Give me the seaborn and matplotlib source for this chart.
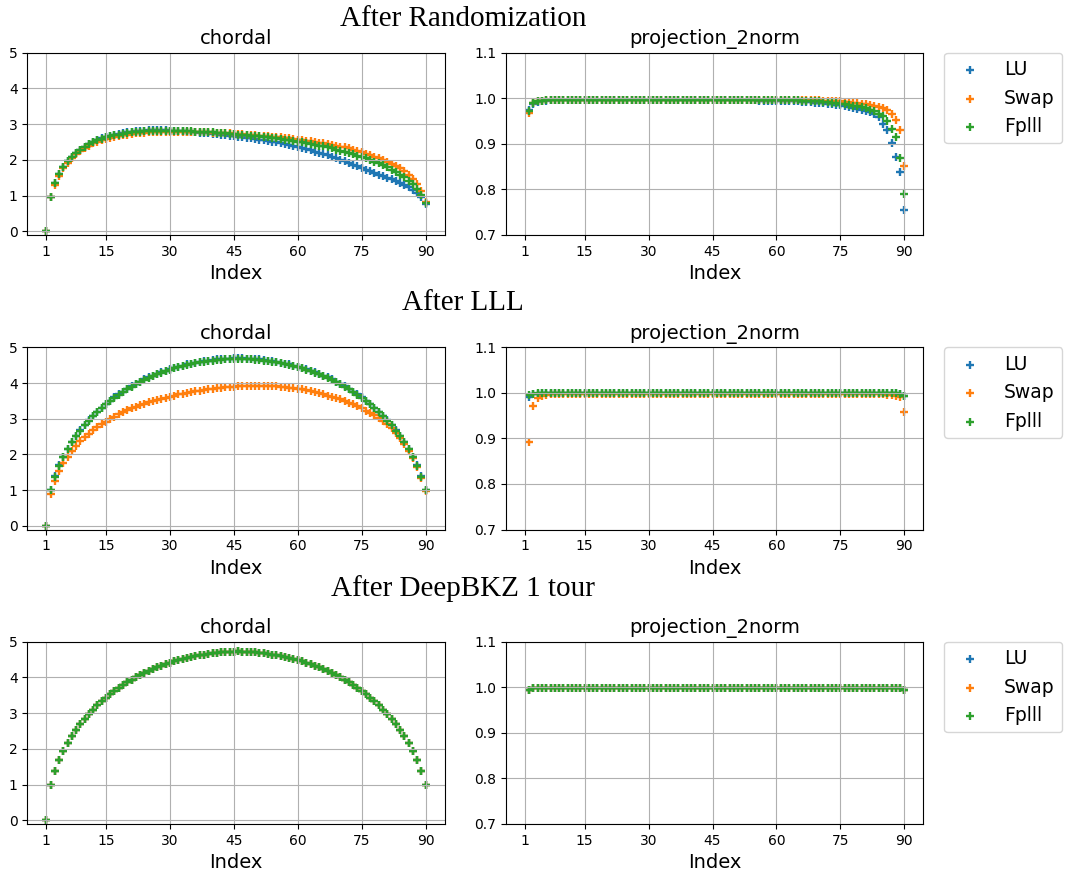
import matplotlib
matplotlib.use("Agg")
import matplotlib.pyplot as plt
import seaborn as sns

# ---------------------------------------------------------------------------
# Data
# ---------------------------------------------------------------------------
methods = ["LU", "Swap", "Fplll"]
colors = ["#1f77b4", "#ff7f0e", "#2ca02c"]
stage_titles = ["After Randomization", "After LLL", "After DeepBKZ 1 tour"]
index_chordal = list(range(1, 91))
index_proj = list(range(2, 91))
xtick_values = [1, 15, 30, 45, 60, 75, 90]
chordal_yticks = [0, 1, 2, 3, 4, 5]
proj_yticks = [0.7, 0.8, 0.9, 1.0, 1.1]

# chordal -- after randomization
chordal_rand_lu = [
    0.00, 0.97, 1.34, 1.60, 1.80, 1.96, 2.09, 2.20, 2.29, 2.37,
    2.44, 2.50, 2.55, 2.60, 2.64, 2.67, 2.70, 2.73, 2.75, 2.77,
    2.79, 2.80, 2.81, 2.82, 2.83, 2.83, 2.83, 2.83, 2.83, 2.82,
    2.82, 2.81, 2.80, 2.79, 2.78, 2.77, 2.76, 2.75, 2.74, 2.73,
    2.72, 2.71, 2.70, 2.68, 2.67, 2.65, 2.64, 2.62, 2.60, 2.59,
    2.57, 2.55, 2.53, 2.51, 2.49, 2.47, 2.44, 2.42, 2.39, 2.36,
    2.33, 2.30, 2.27, 2.23, 2.20, 2.16, 2.13, 2.09, 2.05, 2.01,
    1.97, 1.92, 1.87, 1.82, 1.77, 1.72, 1.68, 1.64, 1.59, 1.55,
    1.50, 1.46, 1.41, 1.36, 1.31, 1.24, 1.16, 1.07, 0.95, 0.77,
]
chordal_rand_swap = [
    0.00, 0.95, 1.30, 1.56, 1.76, 1.92, 2.05, 2.16, 2.25, 2.33,
    2.40, 2.46, 2.51, 2.55, 2.59, 2.62, 2.65, 2.67, 2.69, 2.71,
    2.73, 2.74, 2.75, 2.76, 2.77, 2.78, 2.78, 2.79, 2.79, 2.79,
    2.79, 2.79, 2.79, 2.79, 2.78, 2.78, 2.78, 2.77, 2.77, 2.76,
    2.76, 2.75, 2.75, 2.74, 2.73, 2.73, 2.72, 2.71, 2.70, 2.69,
    2.68, 2.67, 2.66, 2.65, 2.64, 2.63, 2.61, 2.60, 2.58, 2.57,
    2.55, 2.54, 2.52, 2.50, 2.48, 2.46, 2.44, 2.42, 2.40, 2.37,
    2.35, 2.32, 2.29, 2.25, 2.21, 2.17, 2.13, 2.09, 2.04, 1.99,
    1.94, 1.89, 1.83, 1.76, 1.68, 1.58, 1.47, 1.33, 1.12, 0.83,
]
chordal_rand_fplll = [
    0.00, 0.97, 1.34, 1.60, 1.80, 1.96, 2.09, 2.20, 2.29, 2.37,
    2.44, 2.50, 2.55, 2.59, 2.63, 2.66, 2.69, 2.71, 2.73, 2.75,
    2.77, 2.78, 2.79, 2.80, 2.81, 2.81, 2.82, 2.82, 2.82, 2.82,
    2.82, 2.81, 2.81, 2.80, 2.80, 2.79, 2.79, 2.78, 2.77, 2.77,
    2.76, 2.75, 2.74, 2.73, 2.72, 2.71, 2.70, 2.69, 2.68, 2.67,
    2.66, 2.64, 2.63, 2.62, 2.60, 2.59, 2.57, 2.55, 2.53, 2.51,
    2.49, 2.47, 2.45, 2.43, 2.40, 2.38, 2.35, 2.32, 2.29, 2.26,
    2.23, 2.19, 2.16, 2.12, 2.08, 2.04, 2.00, 1.95, 1.90, 1.85,
    1.79, 1.73, 1.67, 1.59, 1.51, 1.42, 1.32, 1.19, 1.03, 0.80,
]

# chordal -- after LLL
chordal_lll_lu = [
    0.00, 1.00, 1.39, 1.70, 1.94, 2.15, 2.35, 2.52, 2.68, 2.83,
    2.96, 3.08, 3.20, 3.31, 3.41, 3.51, 3.60, 3.68, 3.76, 3.84,
    3.91, 3.98, 4.04, 4.10, 4.16, 4.21, 4.26, 4.30, 4.35, 4.39,
    4.42, 4.46, 4.49, 4.52, 4.54, 4.57, 4.59, 4.61, 4.63, 4.64,
    4.66, 4.67, 4.68, 4.68, 4.69, 4.69, 4.69, 4.68, 4.68, 4.67,
    4.66, 4.64, 4.63, 4.61, 4.59, 4.57, 4.54, 4.52, 4.49, 4.46,
    4.42, 4.39, 4.35, 4.30, 4.26, 4.21, 4.16, 4.10, 4.04, 3.98,
    3.91, 3.84, 3.76, 3.68, 3.60, 3.51, 3.41, 3.31, 3.20, 3.08,
    2.96, 2.83, 2.68, 2.52, 2.35, 2.15, 1.94, 1.70, 1.39, 1.00,
]
chordal_lll_swap = [
    0.00, 0.90, 1.26, 1.53, 1.75, 1.94, 2.10, 2.24, 2.37, 2.48,
    2.58, 2.68, 2.77, 2.85, 2.92, 2.99, 3.06, 3.12, 3.18, 3.24,
    3.29, 3.34, 3.38, 3.42, 3.46, 3.50, 3.53, 3.56, 3.59, 3.62,
    3.65, 3.68, 3.70, 3.73, 3.75, 3.77, 3.79, 3.81, 3.83, 3.84,
    3.86, 3.87, 3.88, 3.89, 3.90, 3.91, 3.92, 3.92, 3.93, 3.93,
    3.93, 3.93, 3.92, 3.92, 3.91, 3.90, 3.89, 3.87, 3.86, 3.84,
    3.82, 3.80, 3.77, 3.75, 3.72, 3.69, 3.65, 3.62, 3.58, 3.54,
    3.50, 3.45, 3.40, 3.35, 3.29, 3.23, 3.17, 3.10, 3.03, 2.95,
    2.85, 2.74, 2.60, 2.45, 2.29, 2.10, 1.89, 1.64, 1.35, 0.97,
]
chordal_lll_fplll = [
    0.00, 1.00, 1.38, 1.69, 1.93, 2.14, 2.34, 2.51, 2.67, 2.82,
    2.95, 3.07, 3.19, 3.30, 3.40, 3.50, 3.59, 3.67, 3.75, 3.83,
    3.90, 3.97, 4.03, 4.09, 4.14, 4.19, 4.24, 4.29, 4.33, 4.37,
    4.41, 4.44, 4.47, 4.50, 4.53, 4.55, 4.58, 4.60, 4.61, 4.63,
    4.64, 4.65, 4.66, 4.67, 4.67, 4.68, 4.67, 4.67, 4.66, 4.65,
    4.64, 4.63, 4.61, 4.60, 4.58, 4.55, 4.53, 4.50, 4.47, 4.44,
    4.41, 4.37, 4.33, 4.29, 4.24, 4.19, 4.14, 4.09, 4.03, 3.97,
    3.90, 3.83, 3.75, 3.67, 3.59, 3.50, 3.40, 3.30, 3.19, 3.07,
    2.95, 2.82, 2.67, 2.51, 2.34, 2.14, 1.93, 1.69, 1.38, 1.00,
]

# chordal -- after one DeepBKZ tour (the three methods coincide)
chordal_deep_lu = [
    0.00, 1.00, 1.39, 1.70, 1.95, 2.16, 2.36, 2.53, 2.69, 2.84,
    2.98, 3.10, 3.22, 3.33, 3.43, 3.53, 3.62, 3.71, 3.79, 3.86,
    3.93, 4.00, 4.06, 4.12, 4.18, 4.23, 4.28, 4.33, 4.37, 4.41,
    4.45, 4.48, 4.52, 4.55, 4.57, 4.60, 4.62, 4.64, 4.66, 4.68,
    4.69, 4.70, 4.71, 4.72, 4.72, 4.73, 4.72, 4.72, 4.71, 4.70,
    4.69, 4.68, 4.66, 4.64, 4.62, 4.60, 4.57, 4.55, 4.52, 4.48,
    4.45, 4.41, 4.37, 4.33, 4.28, 4.23, 4.18, 4.12, 4.06, 4.00,
    3.93, 3.86, 3.79, 3.71, 3.62, 3.53, 3.43, 3.33, 3.22, 3.10,
    2.98, 2.84, 2.69, 2.53, 2.36, 2.16, 1.95, 1.70, 1.39, 1.00,
]
chordal_deep_swap = chordal_deep_lu
chordal_deep_fplll = chordal_deep_lu

# projection_2norm -- after randomization (indices 2..90)
proj_rand_lu = [
    0.975, 0.988, 0.992, 0.994, 0.995, 0.996, 0.996, 0.996, 0.996, 0.996,
    0.996, 0.996, 0.996, 0.996, 0.996, 0.996, 0.996, 0.996, 0.996, 0.996,
    0.996, 0.996, 0.996, 0.996, 0.996, 0.996, 0.996, 0.996, 0.996, 0.996,
    0.996, 0.996, 0.996, 0.996, 0.996, 0.996, 0.996, 0.996, 0.996, 0.996,
    0.996, 0.996, 0.996, 0.996, 0.996, 0.996, 0.996, 0.996, 0.996, 0.996,
    0.996, 0.996, 0.996, 0.996, 0.995, 0.995, 0.995, 0.995, 0.995, 0.994,
    0.994, 0.994, 0.993, 0.993, 0.992, 0.992, 0.991, 0.990, 0.990, 0.989,
    0.988, 0.987, 0.986, 0.985, 0.983, 0.981, 0.979, 0.977, 0.975, 0.972,
    0.969, 0.965, 0.958, 0.943, 0.931, 0.902, 0.871, 0.838, 0.755,
]
proj_rand_swap = [
    0.967, 0.989, 0.993, 0.995, 0.996, 0.997, 0.997, 0.997, 0.997, 0.997,
    0.997, 0.997, 0.997, 0.997, 0.997, 0.997, 0.997, 0.997, 0.997, 0.997,
    0.997, 0.997, 0.997, 0.997, 0.997, 0.997, 0.997, 0.997, 0.997, 0.997,
    0.997, 0.997, 0.997, 0.997, 0.997, 0.997, 0.997, 0.997, 0.997, 0.997,
    0.997, 0.997, 0.997, 0.997, 0.997, 0.997, 0.997, 0.997, 0.997, 0.997,
    0.997, 0.997, 0.997, 0.997, 0.997, 0.997, 0.997, 0.997, 0.997, 0.997,
    0.997, 0.997, 0.997, 0.997, 0.996, 0.996, 0.996, 0.996, 0.996, 0.995,
    0.995, 0.994, 0.994, 0.993, 0.992, 0.991, 0.990, 0.989, 0.988, 0.987,
    0.985, 0.983, 0.981, 0.978, 0.975, 0.966, 0.953, 0.931, 0.851,
]
proj_rand_fplll = [
    0.973, 0.989, 0.993, 0.995, 0.996, 0.997, 0.997, 0.997, 0.997, 0.997,
    0.997, 0.997, 0.997, 0.997, 0.997, 0.997, 0.997, 0.997, 0.997, 0.997,
    0.997, 0.997, 0.997, 0.997, 0.997, 0.997, 0.997, 0.997, 0.997, 0.997,
    0.997, 0.997, 0.997, 0.997, 0.997, 0.997, 0.997, 0.997, 0.997, 0.997,
    0.997, 0.997, 0.997, 0.997, 0.997, 0.997, 0.997, 0.997, 0.997, 0.997,
    0.997, 0.997, 0.997, 0.997, 0.997, 0.997, 0.997, 0.997, 0.997, 0.996,
    0.996, 0.996, 0.996, 0.996, 0.995, 0.995, 0.994, 0.994, 0.993, 0.992,
    0.991, 0.990, 0.989, 0.988, 0.987, 0.985, 0.984, 0.982, 0.980, 0.978,
    0.975, 0.971, 0.966, 0.960, 0.951, 0.932, 0.915, 0.869, 0.790,
]

# projection_2norm -- after LLL
proj_lll_lu = [
    0.990, 0.997, 0.998, 0.999, 0.999, 0.999, 0.999, 0.999, 0.999, 0.999,
    0.999, 0.999, 0.999, 0.999, 0.999, 0.999, 0.999, 0.999, 0.999, 0.999,
    0.999, 0.999, 0.999, 0.999, 0.999, 0.999, 0.999, 0.999, 0.999, 0.999,
    0.999, 0.999, 0.999, 0.999, 0.999, 0.999, 0.999, 0.999, 0.999, 0.999,
    0.999, 0.999, 0.999, 0.999, 0.999, 0.999, 0.999, 0.999, 0.999, 0.999,
    0.999, 0.999, 0.999, 0.999, 0.999, 0.999, 0.999, 0.999, 0.999, 0.999,
    0.999, 0.999, 0.999, 0.999, 0.999, 0.999, 0.999, 0.999, 0.999, 0.999,
    0.999, 0.999, 0.999, 0.999, 0.999, 0.999, 0.999, 0.999, 0.999, 0.999,
    0.999, 0.999, 0.999, 0.999, 0.999, 0.999, 0.999, 0.998, 0.994,
]
proj_lll_swap = [
    0.893, 0.972, 0.988, 0.993, 0.995, 0.997, 0.997, 0.997, 0.997, 0.997,
    0.997, 0.997, 0.997, 0.997, 0.997, 0.997, 0.997, 0.997, 0.997, 0.997,
    0.997, 0.997, 0.997, 0.997, 0.997, 0.997, 0.997, 0.997, 0.997, 0.997,
    0.997, 0.997, 0.997, 0.997, 0.997, 0.997, 0.997, 0.997, 0.997, 0.997,
    0.997, 0.997, 0.997, 0.997, 0.997, 0.997, 0.997, 0.997, 0.997, 0.997,
    0.997, 0.997, 0.997, 0.997, 0.997, 0.997, 0.997, 0.997, 0.997, 0.997,
    0.997, 0.997, 0.997, 0.997, 0.997, 0.997, 0.997, 0.997, 0.997, 0.997,
    0.997, 0.997, 0.997, 0.997, 0.997, 0.997, 0.997, 0.997, 0.997, 0.997,
    0.997, 0.997, 0.997, 0.997, 0.996, 0.995, 0.993, 0.990, 0.957,
]
proj_lll_fplll = [
    0.995, 0.998, 0.999, 0.999, 0.999, 0.999, 0.999, 0.999, 0.999, 0.999,
    0.999, 0.999, 0.999, 0.999, 0.999, 0.999, 0.999, 0.999, 0.999, 0.999,
    0.999, 0.999, 0.999, 0.999, 0.999, 0.999, 0.999, 0.999, 0.999, 0.999,
    0.999, 0.999, 0.999, 0.999, 0.999, 0.999, 0.999, 0.999, 0.999, 0.999,
    0.999, 0.999, 0.999, 0.999, 0.999, 0.999, 0.999, 0.999, 0.999, 0.999,
    0.999, 0.999, 0.999, 0.999, 0.999, 0.999, 0.999, 0.999, 0.999, 0.999,
    0.999, 0.999, 0.999, 0.999, 0.999, 0.999, 0.999, 0.999, 0.999, 0.999,
    0.999, 0.999, 0.999, 0.999, 0.999, 0.999, 0.999, 0.999, 0.999, 0.999,
    0.999, 0.999, 0.999, 0.999, 0.999, 0.999, 0.999, 0.998, 0.994,
]

# projection_2norm -- after one DeepBKZ tour (the three methods coincide)
proj_deep_lu = [
    0.994, 0.998, 0.999, 0.999, 0.999, 0.999, 0.999, 0.999, 0.999, 0.999,
    0.999, 0.999, 0.999, 0.999, 0.999, 0.999, 0.999, 0.999, 0.999, 0.999,
    0.999, 0.999, 0.999, 0.999, 0.999, 0.999, 0.999, 0.999, 0.999, 0.999,
    0.999, 0.999, 0.999, 0.999, 0.999, 0.999, 0.999, 0.999, 0.999, 0.999,
    0.999, 0.999, 0.999, 0.999, 0.999, 0.999, 0.999, 0.999, 0.999, 0.999,
    0.999, 0.999, 0.999, 0.999, 0.999, 0.999, 0.999, 0.999, 0.999, 0.999,
    0.999, 0.999, 0.999, 0.999, 0.999, 0.999, 0.999, 0.999, 0.999, 0.999,
    0.999, 0.999, 0.999, 0.999, 0.999, 0.999, 0.999, 0.999, 0.999, 0.999,
    0.999, 0.999, 0.999, 0.999, 0.999, 0.999, 0.999, 0.998, 0.994,
]
proj_deep_swap = proj_deep_lu
proj_deep_fplll = proj_deep_lu

chordal_by_stage = [
    [chordal_rand_lu, chordal_rand_swap, chordal_rand_fplll],
    [chordal_lll_lu, chordal_lll_swap, chordal_lll_fplll],
    [chordal_deep_lu, chordal_deep_swap, chordal_deep_fplll],
]
proj_by_stage = [
    [proj_rand_lu, proj_rand_swap, proj_rand_fplll],
    [proj_lll_lu, proj_lll_swap, proj_lll_fplll],
    [proj_deep_lu, proj_deep_swap, proj_deep_fplll],
]

# ---------------------------------------------------------------------------
# Figure
# ---------------------------------------------------------------------------
W, H = 1065, 874
fig = plt.figure(figsize=(W / 100, H / 100), dpi=100)


def px_axes(x0, y0, x1, y1):
    """Add axes from pixel box (top-left origin)."""
    return fig.add_axes([x0 / W, 1 - y1 / H, (x1 - x0) / W, (y1 - y0) / H])


row_tops = [52.7, 347.3, 641.7]
row_height = 182.2
title_baselines = [25.5, 310.5, 595.5]
xlim = (-3.45, 94.45)
marker_size = 38
marker_lw = 1.7

for r in range(3):
    top = row_tops[r]
    ax_c = px_axes(27.3, top, 444.6, top + row_height)
    ax_p = px_axes(506.0, top, 923.3, top + row_height)

    for vals, name, col in zip(chordal_by_stage[r], methods, colors):
        sns.scatterplot(x=index_chordal, y=vals, marker="+", s=marker_size,
                        linewidth=marker_lw, color=col, label=name, ax=ax_c)
    for vals, name, col in zip(proj_by_stage[r], methods, colors):
        sns.scatterplot(x=index_proj, y=vals, marker="+", s=marker_size,
                        linewidth=marker_lw, color=col, label=name, ax=ax_p)

    if ax_c.get_legend() is not None:
        ax_c.get_legend().remove()

    ax_c.set_title("chordal", fontsize=14)
    ax_p.set_title("projection_2norm", fontsize=14)
    for ax in (ax_c, ax_p):
        ax.set_xlim(*xlim)
        ax.set_xticks(xtick_values)
        ax.set_xlabel("Index", fontsize=14)
        ax.set_ylabel("")
        ax.grid(True)
        ax.tick_params(labelsize=10)

    ax_c.set_ylim(-0.1, 5)
    ax_c.set_yticks(chordal_yticks)
    ax_p.set_ylim(0.7, 1.1)
    ax_p.set_yticks(proj_yticks)

    ax_p.legend(bbox_to_anchor=(1.05, 1), loc="upper left",
                borderaxespad=0, fontsize=13.5)

    fig.text(463 / W, 1 - title_baselines[r] / H, stage_titles[r],
             ha="center", va="baseline", fontsize=21,
             family="Liberation Serif")

fig.savefig("out.png", dpi=100)
